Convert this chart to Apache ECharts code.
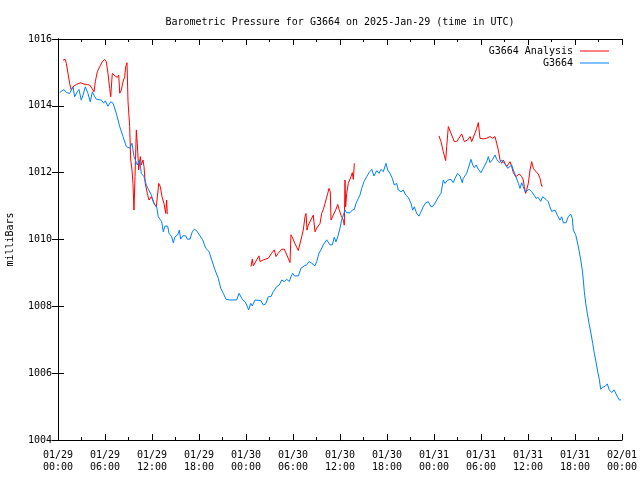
<!DOCTYPE html>
<html>
<head>
<meta charset="utf-8">
<script src="https://cdn.jsdelivr.net/npm/echarts@6/dist/echarts.min.js"></script>
<style>html,body{margin:0;padding:0;background:#fff}#c{width:640px;height:480px}</style>
</head>
<body>
<div id="c"></div>
<script>
// Hours since 2025-01-29 00:00 UTC
const tickLabels = ['01/29\n00:00','01/29\n06:00','01/29\n12:00','01/29\n18:00','01/30\n00:00','01/30\n06:00','01/30\n12:00','01/30\n18:00','01/31\n00:00','01/31\n06:00','01/31\n12:00','01/31\n18:00','02/01\n00:00'];

const stationHours = [0.22,0.77,1.06,1.49,1.91,2.13,2.46,2.68,2.97,3.19,3.49,3.83,4.12,4.38,4.69,4.89,5.53,5.83,6.04,6.38,6.73,7.02,7.44,7.88,8.30,8.72,9.15,9.45,9.70,9.87,10.12,10.43,10.63,10.98,11.27,11.49,11.91,12.34,12.60,12.80,13.24,13.44,13.66,14.00,14.17,14.51,14.72,14.94,15.28,15.49,15.66,15.92,16.30,16.51,16.85,17.14,17.40,17.71,18.04,18.47,18.85,19.28,19.62,20.04,20.46,20.77,21.10,21.45,21.96,22.81,23.11,23.36,23.58,23.87,24.09,24.34,24.60,24.80,25.15,25.91,26.21,26.51,26.85,27.19,27.48,27.92,28.25,28.56,28.89,29.20,29.53,29.74,29.96,30.17,30.68,31.02,31.44,31.75,32.04,32.39,32.81,33.03,33.32,33.57,33.87,34.09,34.30,34.51,34.72,35.02,35.27,35.49,35.71,36.00,36.21,36.42,36.64,36.85,37.28,37.57,37.83,38.04,38.34,38.55,38.77,39.06,39.41,39.70,40.05,40.34,40.68,40.98,41.23,41.53,41.87,42.09,42.38,42.68,42.93,43.24,43.44,43.79,44.08,44.39,44.72,45.06,45.28,45.49,45.79,46.09,46.34,46.63,46.94,47.27,47.62,47.91,48.34,48.64,48.89,49.19,49.40,49.75,50.17,50.46,50.68,51.02,51.32,51.61,51.74,52.17,52.47,52.72,52.94,53.15,53.37,53.66,54.00,54.29,54.51,54.73,54.93,55.15,55.49,55.79,56.00,56.34,56.64,56.85,57.19,57.41,57.61,57.92,58.13,58.43,58.77,58.98,59.20,59.40,59.62,59.83,60.17,60.47,60.77,61.02,61.31,61.62,61.87,62.30,62.59,62.72,63.02,63.23,63.45,63.74,64.09,64.30,64.51,64.85,65.14,65.45,65.66,65.78,66.09,66.29,66.55,66.73,66.93,67.06,67.19,67.37,67.57,67.79,68.04,68.26,68.46,68.68,68.90,69.10,69.28,69.54,69.83,70.12,70.38,70.69,70.98,71.23,71.45,71.65,71.87];
const stationMb = [1014.40,1014.49,1014.40,1014.37,1014.57,1014.27,1014.42,1014.49,1014.17,1014.32,1014.57,1014.37,1014.12,1014.42,1014.27,1014.20,1014.17,1014.08,1014.15,1013.99,1014.12,1014.08,1013.78,1013.38,1013.08,1012.78,1012.73,1012.88,1012.48,1012.38,1012.23,1012.38,1011.98,1011.88,1011.63,1011.53,1011.33,1011.03,1010.98,1010.68,1010.53,1010.23,1010.40,1010.40,1010.19,1010.08,1009.90,1010.08,1010.14,1010.28,1010.01,1010.11,1010.11,1010.01,1010.01,1010.23,1010.31,1010.26,1010.14,1009.99,1009.74,1009.64,1009.39,1009.09,1008.84,1008.54,1008.39,1008.21,1008.19,1008.19,1008.39,1008.37,1008.19,1008.14,1008.04,1007.89,1008.09,1008.01,1008.19,1008.17,1008.04,1008.07,1008.29,1008.29,1008.44,1008.59,1008.64,1008.79,1008.74,1008.81,1008.74,1008.89,1008.99,1008.91,1008.91,1009.14,1009.21,1009.24,1009.34,1009.29,1009.21,1009.34,1009.59,1009.69,1009.84,1009.89,1009.99,1010.01,1009.84,1009.84,1010.07,1009.93,1010.08,1010.34,1010.58,1010.63,1010.88,1010.80,1010.80,1010.88,1010.90,1011.08,1011.23,1011.33,1011.53,1011.73,1011.88,1012.00,1012.10,1011.90,1012.06,1011.98,1012.10,1012.03,1012.28,1012.08,1011.98,1011.83,1011.63,1011.68,1011.48,1011.43,1011.48,1011.33,1011.26,1011.08,1010.88,1010.98,1010.78,1010.70,1010.83,1010.98,1011.10,1011.13,1010.98,1011.00,1011.18,1011.30,1011.38,1011.78,1011.68,1011.78,1011.80,1011.70,1011.83,1011.98,1011.90,1011.70,1011.83,1011.98,1012.20,1012.40,1012.23,1012.15,1012.23,1012.10,1012.00,1012.13,1012.18,1012.33,1012.48,1012.30,1012.40,1012.53,1012.40,1012.30,1012.38,1012.30,1012.23,1012.13,1012.18,1012.23,1012.08,1011.90,1011.68,1011.53,1011.70,1011.58,1011.43,1011.48,1011.50,1011.43,1011.33,1011.23,1011.26,1011.14,1011.28,1011.20,1011.13,1011.03,1010.84,1010.88,1010.88,1010.73,1010.58,1010.68,1010.50,1010.50,1010.68,1010.76,1010.63,1010.28,1010.14,1009.93,1009.64,1009.39,1009.09,1008.79,1008.44,1008.09,1007.79,1007.49,1007.19,1006.89,1006.60,1006.34,1006.04,1005.82,1005.52,1005.58,1005.60,1005.68,1005.50,1005.42,1005.50,1005.45,1005.28,1005.20,1005.20];

// null marks a gap between analysis segments
const analysisHours = [0.64,0.93,1.06,1.28,1.49,1.70,1.91,2.34,2.90,3.32,3.74,4.05,4.34,4.60,4.76,5.02,5.32,5.66,5.96,6.17,6.38,6.60,6.73,6.93,7.31,7.57,7.75,7.88,8.08,8.30,8.51,8.64,8.81,8.94,9.15,9.28,9.45,9.57,9.70,9.83,10.00,10.12,10.30,10.51,10.63,10.85,10.98,11.14,11.40,11.62,11.91,12.26,12.55,12.86,13.06,13.28,13.53,13.75,13.87,13.95,
  18.0,
  24.64,24.80,24.93,25.36,25.66,25.79,26.21,26.85,27.28,27.61,27.83,28.12,28.56,28.89,29.20,29.62,29.74,29.96,30.26,30.68,30.89,31.11,31.31,31.53,31.66,31.79,31.95,32.17,32.59,32.81,33.03,33.45,33.66,33.87,34.09,34.43,34.60,34.76,34.85,35.14,35.45,35.71,35.91,36.13,36.42,36.55,36.64,36.72,36.85,37.06,37.40,37.57,37.70,37.83,
  43.0,
  48.64,48.89,49.19,49.49,49.62,49.83,50.17,50.59,50.89,51.19,51.53,51.87,52.30,52.60,52.81,52.94,53.23,53.45,53.66,53.87,54.29,54.73,55.15,55.49,55.79,56.00,56.21,56.43,56.64,56.85,57.06,57.28,57.49,57.70,57.92,58.13,58.43,58.68,58.89,59.20,59.40,59.53,59.70,59.83,60.04,60.26,60.47,60.68,61.02,61.31,61.53,61.74,61.87];
const analysisMb = [1015.37,1015.39,1015.27,1014.97,1014.67,1014.47,1014.57,1014.64,1014.69,1014.65,1014.64,1014.62,1014.52,1014.42,1014.72,1015.02,1015.17,1015.32,1015.39,1015.32,1014.97,1014.52,1014.27,1014.97,1014.89,1014.85,1014.92,1014.38,1014.47,1014.72,1014.87,1015.17,1015.29,1014.12,1013.38,1012.38,1012.08,1011.68,1010.88,1011.88,1013.28,1012.88,1012.08,1012.48,1012.23,1012.38,1012.18,1011.68,1011.38,1011.18,1011.28,1011.08,1010.98,1011.68,1011.58,1011.28,1011.08,1010.78,1011.18,1010.76,
  null,
  1009.19,1009.41,1009.21,1009.39,1009.51,1009.34,1009.39,1009.44,1009.59,1009.69,1009.49,1009.59,1009.71,1009.71,1009.54,1009.31,1010.14,1010.04,1009.87,1009.67,1009.71,1010.08,1010.28,1010.68,1010.78,1010.28,1010.43,1010.48,1010.73,1010.23,1010.34,1010.48,1010.78,1010.90,1011.08,1011.38,1011.53,1011.43,1010.58,1010.73,1010.88,1011.05,1010.88,1010.73,1010.58,1010.43,1011.78,1010.98,1011.38,1011.68,1011.88,1012.00,1011.80,1012.28,
  null,
  1013.10,1012.93,1012.63,1012.36,1012.78,1013.38,1013.18,1012.93,1012.93,1013.03,1013.16,1012.93,1012.98,1013.08,1012.93,1012.93,1013.18,1013.33,1013.50,1013.03,1013.01,1013.03,1013.08,1013.03,1013.08,1012.88,1012.68,1012.38,1012.28,1012.38,1012.28,1012.18,1012.23,1012.33,1012.18,1012.00,1011.88,1011.93,1011.96,1011.88,1011.78,1011.58,1011.38,1011.48,1011.68,1012.08,1012.33,1012.13,1012.03,1011.96,1011.83,1011.60,1011.60];

const FONT = 'DejaVu Sans Mono';
const stationData = stationHours.map((h, i) => [h, stationMb[i]]);
const analysisData = analysisHours.map((h, i) => [h, analysisMb[i] === null ? '-' : analysisMb[i]]);

const chart = echarts.init(document.getElementById('c'), null, {renderer: 'canvas'});
const xBase = {
  type: 'value', min: 0, max: 72, interval: 6,
  axisLine: {show: true, lineStyle: {color: '#000', width: 1}},
  axisTick: {show: true, inside: true, length: 6, lineStyle: {color: '#000'}},
  minorTick: {show: true, splitNumber: 2, length: 3, lineStyle: {color: '#000'}},
  splitLine: {show: false}
};
const yBase = {
  type: 'value', min: 1004, max: 1016, interval: 2,
  axisLine: {show: true, lineStyle: {color: '#000', width: 1}},
  axisTick: {show: true, inside: true, length: 6, lineStyle: {color: '#000'}},
  splitLine: {show: false}
};
chart.setOption({
  animation: false,
  backgroundColor: '#fff',
  title: {
    text: 'Barometric Pressure for G3664 on 2025-Jan-29 (time in UTC)',
    left: 335, top: 12, textAlign: 'center',
    textStyle: {fontFamily: FONT, fontSize: 10, fontWeight: 'normal', color: '#000'}
  },
  legend: [
    {data: ['G3664 Analysis'], right: 26, top: 41, align: 'right', icon: 'rect', itemWidth: 29, itemHeight: 1,
     itemGap: 4, textStyle: {fontFamily: FONT, fontSize: 10, color: '#000', padding: [0, 2, 0, 0]}},
    {data: ['G3664'], right: 26, top: 53, align: 'right', icon: 'rect', itemWidth: 29, itemHeight: 1,
     itemGap: 4, textStyle: {fontFamily: FONT, fontSize: 10, color: '#000', padding: [0, 2, 0, 0]}}
  ],
  grid: {left: 58, right: 18, top: 39, bottom: 40, containLabel: false, outerBoundsMode: 'none'},
  xAxis: [
    Object.assign({}, xBase, {position: 'bottom',
      axisLabel: {show: true, margin: 9, fontFamily: FONT, fontSize: 10, color: '#000', lineHeight: 12,
        formatter: v => tickLabels[Math.round(v / 6)]}}),
    Object.assign({}, xBase, {position: 'top', axisLabel: {show: false}})
  ],
  yAxis: [
    Object.assign({}, yBase, {position: 'left', name: 'milliBars', nameLocation: 'middle', nameGap: 43,
      nameTextStyle: {fontFamily: FONT, fontSize: 10, color: '#000'},
      axisLabel: {show: true, margin: 6, fontFamily: FONT, fontSize: 10, color: '#000',
        formatter: v => String(v)}}),
    Object.assign({}, yBase, {position: 'right', axisLabel: {show: false}})
  ],
  series: [
    {name: 'G3664 Analysis', type: 'line', data: analysisData, showSymbol: false, connectNulls: false,
     color: '#ff0000', lineStyle: {color: '#ff0000', width: 1}, z: 2},
    {name: 'G3664', type: 'line', data: stationData, showSymbol: false,
     color: '#0080ff', lineStyle: {color: '#0080ff', width: 1}, z: 3}
  ]
});
</script>
</body>
</html>
